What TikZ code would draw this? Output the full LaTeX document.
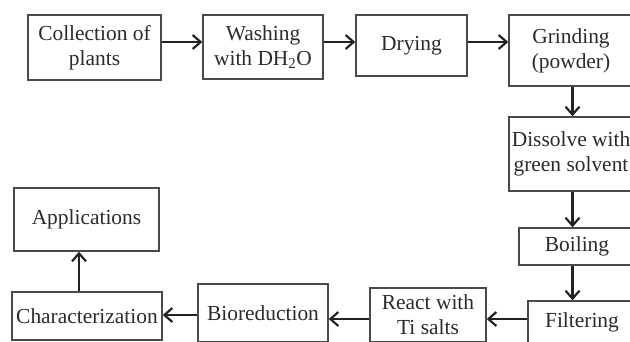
\documentclass[tikz,border=0pt]{standalone}
\usepackage{fontspec}
\setmainfont{Liberation Serif}
\usetikzlibrary{arrows.meta}
\definecolor{boxc}{HTML}{4A4A4A}
\definecolor{txtc}{HTML}{2A2A2A}
\definecolor{arrc}{HTML}{222222}
\tikzset{
  stepbox/.style={draw=boxc, line width=1.4pt, text=txtc, align=center, inner sep=0pt,
    font=\fontsize{21.5}{25}\selectfont},
  arr/.style={draw=arrc, line width=2.2pt, -{Straight Barb[length=8pt,width=14pt,line width=2.2pt]}}
}
\begin{document}
\begin{tikzpicture}[x=1bp,y=-1bp]
\useasboundingbox (0,0) rectangle (630,341);
\clip (0,0) rectangle (630,341);
\node[stepbox, minimum width=133bp, minimum height=65bp] (b1) at (94.5,47.5) {Collection of\\plants};
\node[stepbox, minimum width=120bp, minimum height=64bp] (b2) at (263,47) {Washing\\with DH\textsubscript{2}O};
\node[stepbox, minimum width=111bp, minimum height=61bp] (b3) at (411.5,45.5) {Drying};
\node[stepbox, minimum width=124bp, minimum height=71bp] (b4) at (571,50.5) {Grinding\\(powder)};
\node[stepbox, minimum width=124bp, minimum height=74bp] (b5) at (571,154) {Dissolve with\\green solvent};
\node[stepbox, minimum width=116bp, minimum height=37bp] (b6) at (577,246.5) {Boiling};
\node[stepbox, minimum width=108bp, minimum height=42bp] (b7) at (582,322) {Filtering};
\node[stepbox, minimum width=116bp, minimum height=54bp] (b8) at (428,315) {React with\\Ti salts};
\node[stepbox, minimum width=130bp, minimum height=58bp] (b9) at (263,313) {Bioreduction};
\node[stepbox, minimum width=150bp, minimum height=48bp] (b10) at (87,316) {Characterization};
\node[stepbox, minimum width=145bp, minimum height=63bp] (b11) at (86.5,219.5) {Applications};
\coordinate (r1) at (0,42);
\coordinate (c1) at (572.5,0);
\coordinate (r2) at (0,319);
\coordinate (r3) at (0,315);
\coordinate (c2) at (79,0);
\draw[arr] (b1.east |- r1) -- (b2.west |- r1);
\draw[arr] (b2.east |- r1) -- (b3.west |- r1);
\draw[arr] (b3.east |- r1) -- (b4.west |- r1);
\draw[arr] (b4.south -| c1) -- (b5.north -| c1);
\draw[arr] (b5.south -| c1) -- (b6.north -| c1);
\draw[arr] (b6.south -| c1) -- (b7.north -| c1);
\draw[arr] (b7.west |- r2) -- (b8.east |- r2);
\draw[arr] (b8.west |- r2) -- (b9.east |- r2);
\draw[arr] (b9.west |- r3) -- (b10.east |- r3);
\draw[arr] (b10.north -| c2) -- (b11.south -| c2);
\end{tikzpicture}
\end{document}
